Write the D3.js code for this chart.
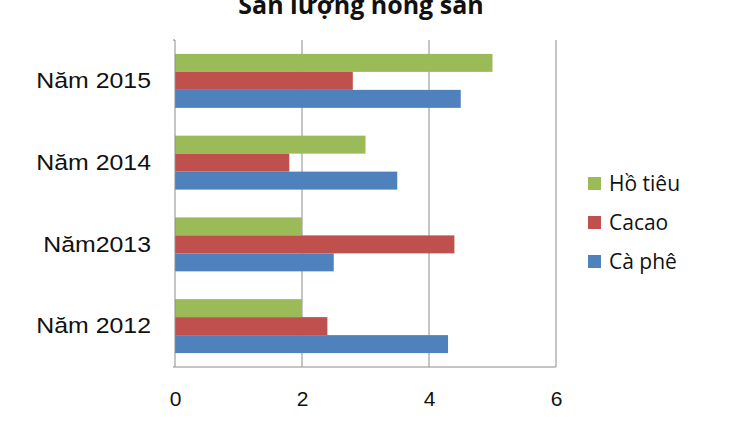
<!DOCTYPE html>
<html>
<head>
<meta charset="utf-8">
<script src="https://cdn.jsdelivr.net/npm/d3@7"></script>
<style>
  body { margin: 0; background: #fff; }
  svg { display: block; }
</style>
</head>
<body>
<script>
const years = ["Năm 2015", "Năm 2014", "Năm2013", "Năm 2012"];
const seriesNames = ["Hồ tiêu", "Cacao", "Cà phê"];
const hoTieu = [5, 3, 2, 2];
const cacao = [2.8, 1.8, 4.4, 2.4];
const caPhe = [4.5, 3.5, 2.5, 4.3];
const xTicks = [0, 2, 4, 6];
const colors = ["#9bbb59", "#c0504d", "#4f81bd"];

const width = 753, height = 432;
const margin = {top: 40, right: 197, bottom: 65, left: 175};

const series = [hoTieu, cacao, caPhe];
const data = years.map((y, i) => ({year: y, values: series.map((s, j) => ({key: seriesNames[j], value: s[i]}))}));

const svg = d3.select("body").append("svg")
    .attr("width", width)
    .attr("height", height);

const x = d3.scaleLinear()
    .domain([0, 6])
    .range([margin.left, width - margin.right]);

const y = d3.scaleBand()
    .domain(years)
    .range([margin.top, height - margin.bottom])
    .paddingInner(0.34)
    .paddingOuter(0.17);

const ySub = d3.scaleBand()
    .domain(seriesNames)
    .range([0, y.bandwidth()]);

const color = d3.scaleOrdinal(seriesNames, colors);

// gridlines
svg.append("g")
    .attr("stroke", "#8c8c8c")
  .selectAll("line")
  .data(xTicks.slice(1))
  .join("line")
    .attr("x1", d => x(d))
    .attr("x2", d => x(d))
    .attr("y1", margin.top)
    .attr("y2", height - margin.bottom);

// bottom line
svg.append("line")
    .attr("stroke", "#8c8c8c")
    .attr("x1", x(0))
    .attr("x2", x(6))
    .attr("y1", height - margin.bottom)
    .attr("y2", height - margin.bottom);

// bars
svg.append("g")
  .selectAll("g")
  .data(data)
  .join("g")
    .attr("transform", d => `translate(0,${y(d.year)})`)
  .selectAll("rect")
  .data(d => d.values)
  .join("rect")
    .attr("x", x(0))
    .attr("y", d => ySub(d.key))
    .attr("width", d => x(d.value) - x(0))
    .attr("height", ySub.bandwidth())
    .attr("fill", d => color(d.key));

// left axis (labels a bit wide, like the original)
const sx = 1.13;
svg.append("g")
    .attr("transform", `translate(${margin.left},0)`)
    .call(d3.axisLeft(y).tickSize(0).tickPadding(24))
    .call(g => g.select(".domain").attr("stroke", "#8c8c8c").attr("d", `M-2,${margin.top}H0V${height - margin.bottom}H-2`))
    .call(g => g.selectAll("text")
        .attr("font-family", "Liberation Sans, Arial, sans-serif")
        .attr("font-size", 22)
        .attr("x", -24 / sx)
        .attr("transform", `scale(${sx},1)`)
        .attr("fill", "#111")
        .attr("dy", "0.33em"));

// bottom axis
svg.append("g")
    .attr("transform", `translate(0,${height - margin.bottom})`)
    .call(d3.axisBottom(x).tickValues(xTicks).tickFormat(d3.format("d")).tickSize(0).tickPadding(24))
    .call(g => g.select(".domain").remove())
    .call(g => g.selectAll("text")
        .attr("font-family", "Liberation Sans, Arial, sans-serif")
        .attr("font-size", 21)
        .attr("fill", "#111"));

// title
svg.append("text")
    .attr("x", 361)
    .attr("y", 14)
    .attr("text-anchor", "middle")
    .attr("font-family", "Open Sans, sans-serif")
    .attr("font-weight", "bold")
    .attr("font-size", 25)
    .attr("fill", "#111")
    .text("Sản lượng nông sản");

// legend
const legend = svg.append("g")
  .selectAll("g")
  .data(seriesNames)
  .join("g")
    .attr("transform", (d, i) => `translate(588,${184 + i * 39})`);

legend.append("rect")
    .attr("x", 0)
    .attr("y", -7)
    .attr("width", 13)
    .attr("height", 13)
    .attr("fill", d => color(d));

legend.append("text")
    .attr("x", 21)
    .attr("dy", "0.35em")
    .attr("font-family", "Open Sans, sans-serif")
    .attr("font-size", 21)
    .attr("fill", "#111")
    .text(d => d);
</script>
</body>
</html>
